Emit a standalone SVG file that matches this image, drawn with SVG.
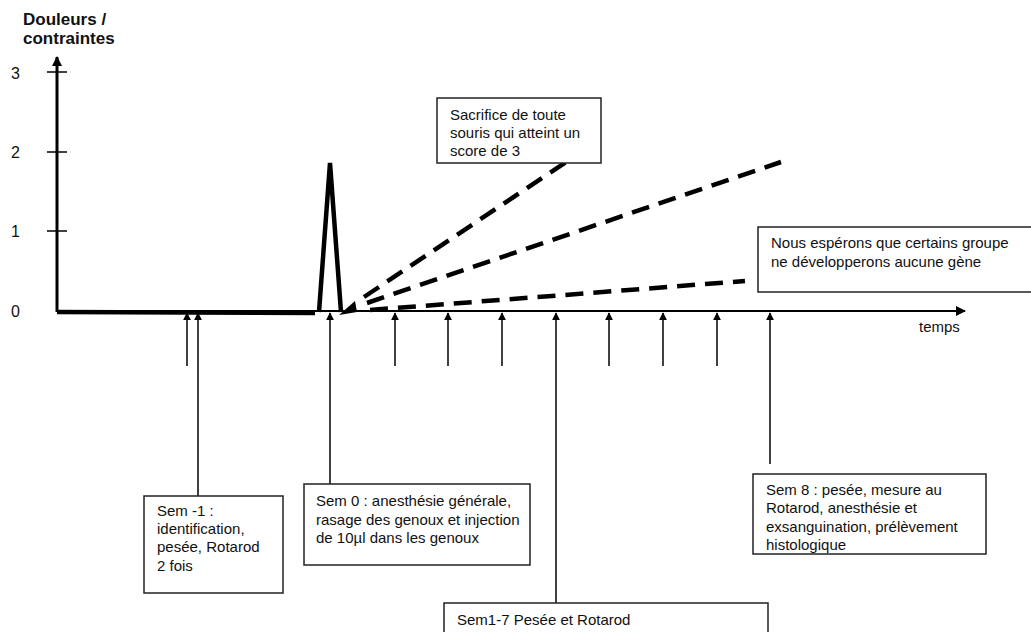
<svg xmlns="http://www.w3.org/2000/svg" width="1031" height="632" viewBox="0 0 1031 632">
<defs>
<style>
.t{font-family:"Liberation Sans",Arial,sans-serif;font-size:15px;fill:#111}
.lab{font-family:"Liberation Sans",Arial,sans-serif;font-size:17px;font-weight:bold;fill:#111}
.num{font-family:"Liberation Sans",Arial,sans-serif;font-size:16px;fill:#111}
.box{fill:#fff;stroke:#222;stroke-width:1.5}
.up{stroke:#111;stroke-width:1.6;fill:none;marker-end:url(#ah)}
.dash{stroke:#000;stroke-width:4.5;fill:none;stroke-dasharray:18 10}
</style>
<marker id="ah" viewBox="0 0 10 10" refX="9" refY="5" markerWidth="8" markerHeight="8" markerUnits="userSpaceOnUse" orient="auto"><path d="M0,0 L10,5 L0,10 z" fill="#000"/></marker>
<marker id="ah2" viewBox="0 0 10 10" refX="9" refY="5" markerWidth="10" markerHeight="10" markerUnits="userSpaceOnUse" orient="auto"><path d="M0,0 L10,5 L0,10 z" fill="#000"/></marker>
</defs>
<rect width="1031" height="632" fill="#fff"/>
<g id="axes">
<text class="lab" x="23" y="25">Douleurs /</text>
<text class="lab" x="23" y="44">contraintes</text>
<line x1="57" y1="312" x2="57" y2="57" stroke="#000" stroke-width="3" marker-end="url(#ah2)"/>
<line x1="47" y1="72" x2="67" y2="72" stroke="#000" stroke-width="1.5"/>
<line x1="47" y1="152" x2="67" y2="152" stroke="#000" stroke-width="1.5"/>
<line x1="47" y1="231" x2="67" y2="231" stroke="#000" stroke-width="1.5"/>
<text class="num" x="11" y="79">3</text>
<text class="num" x="11" y="158">2</text>
<text class="num" x="11" y="237">1</text>
<text class="num" x="11" y="317">0</text>
<line x1="57" y1="311" x2="965" y2="311" stroke="#000" stroke-width="2" marker-end="url(#ah2)"/>
<text class="t" x="919" y="332">temps</text>
</g>
<g id="curves">
<polyline points="57,312 315,313" stroke="#000" stroke-width="4.5" fill="none"/>
<polyline points="319,312 330,163 341,312" stroke="#000" stroke-width="4.5" fill="none" stroke-linejoin="miter"/>
<polygon points="339,315 357,312 355,301" fill="#000"/>
<line class="dash" x1="364" y1="297" x2="566" y2="162"/>
<line class="dash" x1="367" y1="303" x2="781" y2="162"/>
<line class="dash" x1="370" y1="310" x2="745" y2="281"/>
</g>
<g id="connectors">
<line class="up" x1="187" y1="366" x2="187" y2="313"/>
<line class="up" x1="198" y1="496" x2="198" y2="313"/>
<line class="up" x1="330" y1="484" x2="330" y2="313"/>
<line class="up" x1="395" y1="366" x2="395" y2="313"/>
<line class="up" x1="448" y1="366" x2="448" y2="313"/>
<line class="up" x1="502" y1="366" x2="502" y2="313"/>
<line class="up" x1="556" y1="603" x2="556" y2="313"/>
<line class="up" x1="609" y1="366" x2="609" y2="313"/>
<line class="up" x1="663" y1="366" x2="663" y2="313"/>
<line class="up" x1="717" y1="366" x2="717" y2="313"/>
<line class="up" x1="770" y1="464" x2="770" y2="313"/>
</g>
<g id="n-sacrifice">
<rect class="box" x="437" y="98" width="164" height="65"/>
<text class="t" x="450" y="120">Sacrifice de toute</text>
<text class="t" x="450" y="138">souris qui atteint un</text>
<text class="t" x="450" y="156">score de 3</text>
</g>
<g id="n-espoir">
<rect class="box" x="758" y="227" width="280" height="65"/>
<text class="t" x="771" y="248">Nous espérons que certains groupe</text>
<text class="t" x="771" y="267">ne développerons aucune gène</text>
</g>
<g id="n-sem-1">
<rect class="box" x="144" y="496" width="139" height="97"/>
<text class="t" x="157" y="516">Sem -1 :</text>
<text class="t" x="157" y="534">identification,</text>
<text class="t" x="157" y="552">pesée, Rotarod</text>
<text class="t" x="157" y="571">2 fois</text>
</g>
<g id="n-sem0">
<rect class="box" x="304" y="484" width="226" height="81"/>
<text class="t" x="316" y="506">Sem 0 : anesthésie générale,</text>
<text class="t" x="316" y="525">rasage des genoux et injection</text>
<text class="t" x="316" y="543">de 10µl dans les genoux</text>
</g>
<g id="n-sem1-7">
<rect class="box" x="444" y="603" width="324" height="40"/>
<text class="t" x="457" y="625">Sem1-7 Pesée et Rotarod</text>
</g>
<g id="n-sem8">
<rect class="box" x="753" y="474" width="233" height="80"/>
<text class="t" x="766" y="495">Sem 8 : pesée, mesure au</text>
<text class="t" x="766" y="513">Rotarod, anesthésie et</text>
<text class="t" x="766" y="532">exsanguination, prélèvement</text>
<text class="t" x="766" y="550">histologique</text>
</g>
</svg>
